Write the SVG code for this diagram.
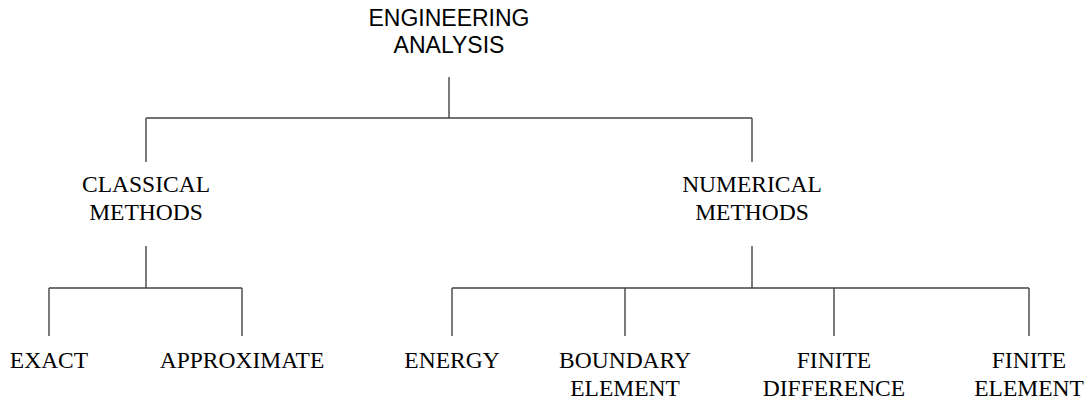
<svg xmlns="http://www.w3.org/2000/svg" width="1086" height="401" viewBox="0 0 1086 401">
<style>
.s{font-family:"Liberation Sans",Arial,sans-serif;font-size:23px;fill:#000;text-anchor:middle}
.t{font-family:"Liberation Serif","Times New Roman",serif;font-size:23.5px;fill:#000;text-anchor:middle}
.c{stroke:#444;stroke-width:1.4;fill:none}
</style>
<rect width="1086" height="401" fill="#fff"/>
<g id="connectors" class="c">
<path d="M449,77V118M146,118H752M146,118V162M752,118V162"/>
<path d="M146,246V288M49,288H242M49,288V336M242,288V336"/>
<path d="M752,246V288M452,288H1029M452,288V336M625,288V336M834,288V336M1029,288V336"/>
</g>
<g id="engineering-analysis"><text class="s" x="449" y="26">ENGINEERING</text><text class="s" x="449" y="53">ANALYSIS</text></g>
<g id="classical-methods"><text class="t" x="146" y="192">CLASSICAL</text><text class="t" x="146" y="220">METHODS</text></g>
<g id="numerical-methods"><text class="t" x="752" y="192">NUMERICAL</text><text class="t" x="752" y="220">METHODS</text></g>
<g id="exact"><text class="t" x="49" y="368">EXACT</text></g>
<g id="approximate"><text class="t" x="242" y="368">APPROXIMATE</text></g>
<g id="energy"><text class="t" x="452" y="368">ENERGY</text></g>
<g id="boundary-element"><text class="t" x="625" y="368">BOUNDARY</text><text class="t" x="625" y="396">ELEMENT</text></g>
<g id="finite-difference"><text class="t" x="834" y="368">FINITE</text><text class="t" x="834" y="396">DIFFERENCE</text></g>
<g id="finite-element"><text class="t" x="1029" y="368">FINITE</text><text class="t" x="1029" y="396">ELEMENT</text></g>
</svg>
